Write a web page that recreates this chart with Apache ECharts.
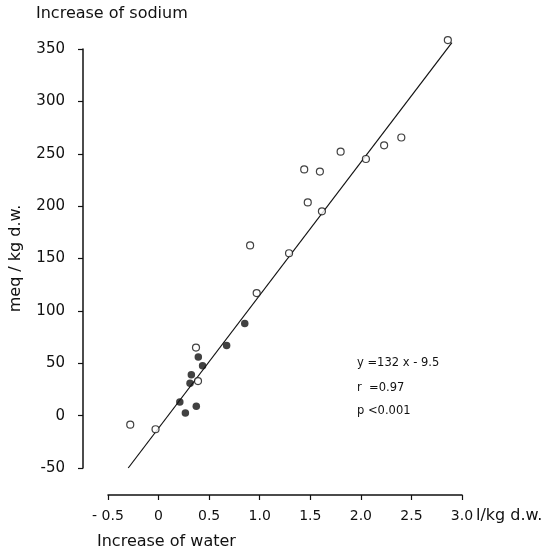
<!DOCTYPE html>
<html>
<head>
    <meta charset="UTF-8">
    <title>Increase of sodium vs water</title>
    <script src="https://cdn.jsdelivr.net/npm/echarts@6/dist/echarts.min.js"></script>
    <style>
        html, body { margin: 0; padding: 0; background: #fff; }
        #main { width: 558px; height: 553px; }
    </style>
</head>
<body>
<div id="main"></div>
<script>
    // open circles
    var openX = [-0.28, -0.03, 0.37, 0.39, 0.97, 0.905, 1.29, 1.615, 1.475, 1.44, 1.595, 1.80, 2.05, 2.23, 2.40, 2.86];
    var openY = [-8.6, -13, 65, 33, 117, 162.5, 155, 195, 203.5, 235, 233, 252, 245, 258, 265.5, 358.5];
    // filled circles
    var fillX = [0.21, 0.265, 0.373, 0.311, 0.324, 0.393, 0.435, 0.673, 0.852];
    var fillY = [13, 2.5, 9, 31, 39, 56, 47.7, 67, 88];
    // regression line as drawn
    var lineX = [-0.3, 2.9];
    var lineY = [-50, 356];

    var xTicks = [-0.5, 0, 0.5, 1.0, 1.5, 2.0, 2.5, 3.0];
    var xTickLabels = ['- 0.5', '0', '0.5', '1.0', '1.5', '2.0', '2.5', '3.0'];
    var yTicks = [-50, 0, 50, 100, 150, 200, 250, 300, 350];

    var statLines = ['y =132 x - 9.5', 'r  =0.97', 'p <0.001'];

    function pairs(xs, ys) {
        var out = [];
        for (var i = 0; i < xs.length; i++) out.push([xs[i], ys[i]]);
        return out;
    }

    var font = 'DejaVu Sans';
    var chart = echarts.init(document.getElementById('main'), null, {renderer: 'canvas'});

    chart.setOption({
        animation: false,
        backgroundColor: '#fff',
        grid: {left: 104, right: 96, top: 49, bottom: 85},
        xAxis: {
            type: 'value',
            min: xTicks[0],
            max: xTicks[xTicks.length - 1],
            interval: 0.5,
            offset: 27,
            splitLine: {show: false},
            axisLine: {onZero: false, lineStyle: {color: '#111', width: 1.5}},
            axisTick: {length: 5, lineStyle: {color: '#111', width: 1.2}},
            axisLabel: {
                color: '#111', fontFamily: font, fontSize: 14, margin: 14,
                formatter: function (v) {
                    var i = xTicks.findIndex(function (t) { return Math.abs(t - v) < 1e-6; });
                    return i >= 0 ? xTickLabels[i] : '';
                }
            }
        },
        yAxis: {
            type: 'value',
            min: yTicks[0],
            max: yTicks[yTicks.length - 1],
            interval: 50,
            offset: 25,
            name: 'meq / kg d.w.',
            nameLocation: 'middle',
            nameRotate: 90,
            nameGap: 59,
            nameTextStyle: {color: '#111', fontFamily: font, fontSize: 16},
            splitLine: {show: false},
            axisLine: {show: true, onZero: false, lineStyle: {color: '#111', width: 1.5}},
            axisTick: {show: true, length: 5, lineStyle: {color: '#111', width: 1.2}},
            axisLabel: {color: '#111', fontFamily: font, fontSize: 15, margin: 18}
        },
        graphic: [
            {type: 'text', left: 36, top: 6, style: {text: 'Increase of sodium', font: '16px "DejaVu Sans"', fill: '#111'}},
            {type: 'text', left: 97, top: 534, style: {text: 'Increase of water', font: '16px "DejaVu Sans"', fill: '#111'}},
            {type: 'text', left: 476, top: 508, style: {text: 'l/kg d.w.', font: '16px "DejaVu Sans"', fill: '#111'}},
            {type: 'text', left: 357, top: 357, style: {text: statLines[0], font: '11.5px "DejaVu Sans"', fill: '#111'}},
            {type: 'text', left: 357, top: 382, style: {text: statLines[1], font: '11.5px "DejaVu Sans"', fill: '#111'}},
            {type: 'text', left: 357, top: 405, style: {text: statLines[2], font: '11.5px "DejaVu Sans"', fill: '#111'}}
        ],
        series: [
            {
                type: 'line',
                data: pairs(lineX, lineY),
                showSymbol: false,
                symbol: 'none',
                clip: false,
                lineStyle: {color: '#111', width: 1.2},
                z: 1
            },
            {
                type: 'scatter',
                data: pairs(openX, openY),
                symbol: 'circle',
                symbolSize: 7,
                clip: false,
                itemStyle: {color: '#fff', borderColor: '#111', borderWidth: 1.2},
                z: 3
            },
            {
                type: 'scatter',
                data: pairs(fillX, fillY),
                symbol: 'circle',
                symbolSize: 7.5,
                clip: false,
                itemStyle: {color: '#111'},
                z: 3
            }
        ]
    });
</script>
</body>
</html>
